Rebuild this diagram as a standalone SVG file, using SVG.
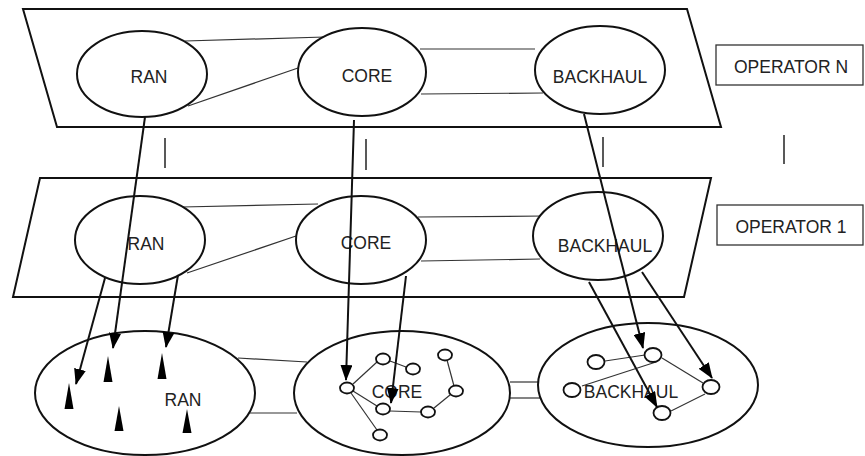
<svg xmlns="http://www.w3.org/2000/svg" width="865" height="456" viewBox="0 0 865 456">
<style>
.plane{fill:#fff;stroke:#111;stroke-width:2}
.ell{fill:#fff;stroke:#111;stroke-width:2}
.link{stroke:#333;stroke-width:1.2;fill:none}
.bar{stroke:#222;stroke-width:1.5}
.box{fill:#fff;stroke:#333;stroke-width:1.3}
.lbl{font-family:"Liberation Sans",Arial,sans-serif;font-size:17.5px;fill:#222;text-anchor:middle}
.arr{stroke:#111;stroke-width:2;fill:none;marker-end:url(#ah)}
.sn{fill:#fff;stroke:#111;stroke-width:1.8}
.tri{fill:#000}
</style>
<defs>
<marker id="ah" markerUnits="userSpaceOnUse" markerWidth="16" markerHeight="12" viewBox="0 0 16 12" refX="15" refY="6" orient="auto">
<path d="M0,0 L16,6 L0,12 Z" fill="#000"/>
</marker>
</defs>
<rect width="865" height="456" fill="#fff"/>

<g id="operator-n-plane">
<polygon class="plane" points="23,9 687,9 721,127 57,127"/>
</g>
<g id="operator-1-plane">
<polygon class="plane" points="40,178 711,178 684,297 13,297"/>
</g>

<g id="links">
<line class="link" x1="185" y1="41" x2="325" y2="37"/>
<line class="link" x1="188" y1="106" x2="298" y2="68"/>
<line class="link" x1="420" y1="49" x2="535" y2="49"/>
<line class="link" x1="421" y1="94" x2="543" y2="93"/>
<line class="link" x1="182" y1="207" x2="318" y2="204"/>
<line class="link" x1="187" y1="273" x2="296" y2="236"/>
<line class="link" x1="418" y1="217" x2="545" y2="216"/>
<line class="link" x1="421" y1="261" x2="540" y2="259"/>
<line class="link" x1="238" y1="358" x2="307" y2="362"/>
<line class="link" x1="250" y1="413" x2="297" y2="413"/>
<line class="link" x1="510" y1="382" x2="540" y2="382"/>
<line class="link" x1="510" y1="398" x2="540" y2="398"/>
<line class="bar" x1="165" y1="138" x2="165" y2="168"/>
<line class="bar" x1="366" y1="139" x2="366" y2="170"/>
<line class="bar" x1="603" y1="137" x2="603" y2="167"/>
<line class="bar" x1="784" y1="135" x2="784" y2="164"/>
</g>

<g id="ran-n"><ellipse class="ell" cx="142" cy="74" rx="65" ry="43"/><text class="lbl" x="149" y="83">RAN</text></g>
<g id="core-n"><ellipse class="ell" cx="362" cy="72" rx="64" ry="44"/><text class="lbl" x="367" y="82">CORE</text></g>
<g id="backhaul-n"><ellipse class="ell" cx="600" cy="70" rx="65" ry="44"/><text class="lbl" x="600" y="83">BACKHAUL</text></g>
<g id="label-operator-n"><rect class="box" x="716" y="45" width="147" height="40"/><text class="lbl" x="791" y="73">OPERATOR N</text></g>

<g id="ran-1"><ellipse class="ell" cx="140" cy="240" rx="65" ry="44"/><text class="lbl" x="146" y="250">RAN</text></g>
<g id="core-1"><ellipse class="ell" cx="361" cy="240" rx="65" ry="44"/><text class="lbl" x="366" y="249">CORE</text></g>
<g id="backhaul-1"><ellipse class="ell" cx="598" cy="236" rx="65" ry="44"/><text class="lbl" x="605" y="252">BACKHAUL</text></g>
<g id="label-operator-1"><rect class="box" x="717" y="205" width="146" height="40"/><text class="lbl" x="791" y="233">OPERATOR 1</text></g>

<g id="ran-physical">
<ellipse class="ell" cx="145" cy="393" rx="110" ry="62"/>
<text class="lbl" x="183" y="406">RAN</text>
<polygon class="tri" points="69,383 64.5,409 73.5,409"/>
<polygon class="tri" points="108,356 103.5,382 112.5,382"/>
<polygon class="tri" points="162,353 157.5,379 166.5,379"/>
<polygon class="tri" points="119,406 114.5,431 123.5,431"/>
<polygon class="tri" points="187,409 182.5,433 191.5,433"/>
</g>

<g id="core-physical">
<ellipse class="ell" cx="402" cy="393" rx="108" ry="62"/>
<line class="link" x1="353" y1="384" x2="377" y2="362"/>
<line class="link" x1="353" y1="391" x2="377" y2="406"/>
<line class="link" x1="351" y1="393" x2="377" y2="430"/>
<line class="link" x1="390" y1="361" x2="406" y2="367"/>
<line class="link" x1="447" y1="360" x2="454" y2="386"/>
<line class="link" x1="450" y1="395" x2="434" y2="408"/>
<line class="link" x1="390" y1="411" x2="421" y2="412" stroke="#888"/>
<text class="lbl" x="397" y="398">CORE</text>
<ellipse class="sn" cx="347" cy="388" rx="7" ry="5.5"/>
<ellipse class="sn" cx="383" cy="359" rx="7" ry="5.5"/>
<ellipse class="sn" cx="413" cy="369" rx="7" ry="5.5"/>
<ellipse class="sn" cx="445" cy="355" rx="7" ry="5.5"/>
<ellipse class="sn" cx="456" cy="391" rx="7" ry="5.5"/>
<ellipse class="sn" cx="383" cy="409" rx="7" ry="5.5"/>
<ellipse class="sn" cx="428" cy="412" rx="7" ry="5.5"/>
<ellipse class="sn" cx="380" cy="435" rx="7" ry="5.5"/>
</g>

<g id="backhaul-physical">
<ellipse class="ell" cx="648" cy="385" rx="110" ry="62"/>
<line class="link" x1="605" y1="361" x2="645" y2="355"/>
<line class="link" x1="662" y1="358" x2="703" y2="383"/>
<line class="link" x1="705" y1="394" x2="671" y2="411"/>
<line class="link" x1="582" y1="386" x2="656" y2="362"/>
<text class="lbl" x="631" y="398">BACKHAUL</text>
<ellipse class="sn" cx="596" cy="362" rx="8.5" ry="7"/>
<ellipse class="sn" cx="653" cy="355" rx="8.5" ry="7"/>
<ellipse class="sn" cx="711" cy="387" rx="8.5" ry="7"/>
<ellipse class="sn" cx="572" cy="390" rx="8.5" ry="7"/>
<ellipse class="sn" cx="662" cy="413" rx="8.5" ry="7"/>
</g>

<g id="connectors">
<line class="arr" x1="145" y1="117" x2="113" y2="348"/>
<line class="arr" x1="105" y1="278" x2="76" y2="384"/>
<line class="arr" x1="178" y1="275" x2="166" y2="347"/>
<line class="arr" x1="354" y1="120" x2="346" y2="380"/>
<line class="arr" x1="406" y1="276" x2="391" y2="403"/>
<line class="arr" x1="584" y1="114" x2="643" y2="348"/>
<line class="arr" x1="589" y1="282" x2="657" y2="407"/>
<line class="arr" x1="642" y1="272" x2="712" y2="378"/>
</g>
</svg>
